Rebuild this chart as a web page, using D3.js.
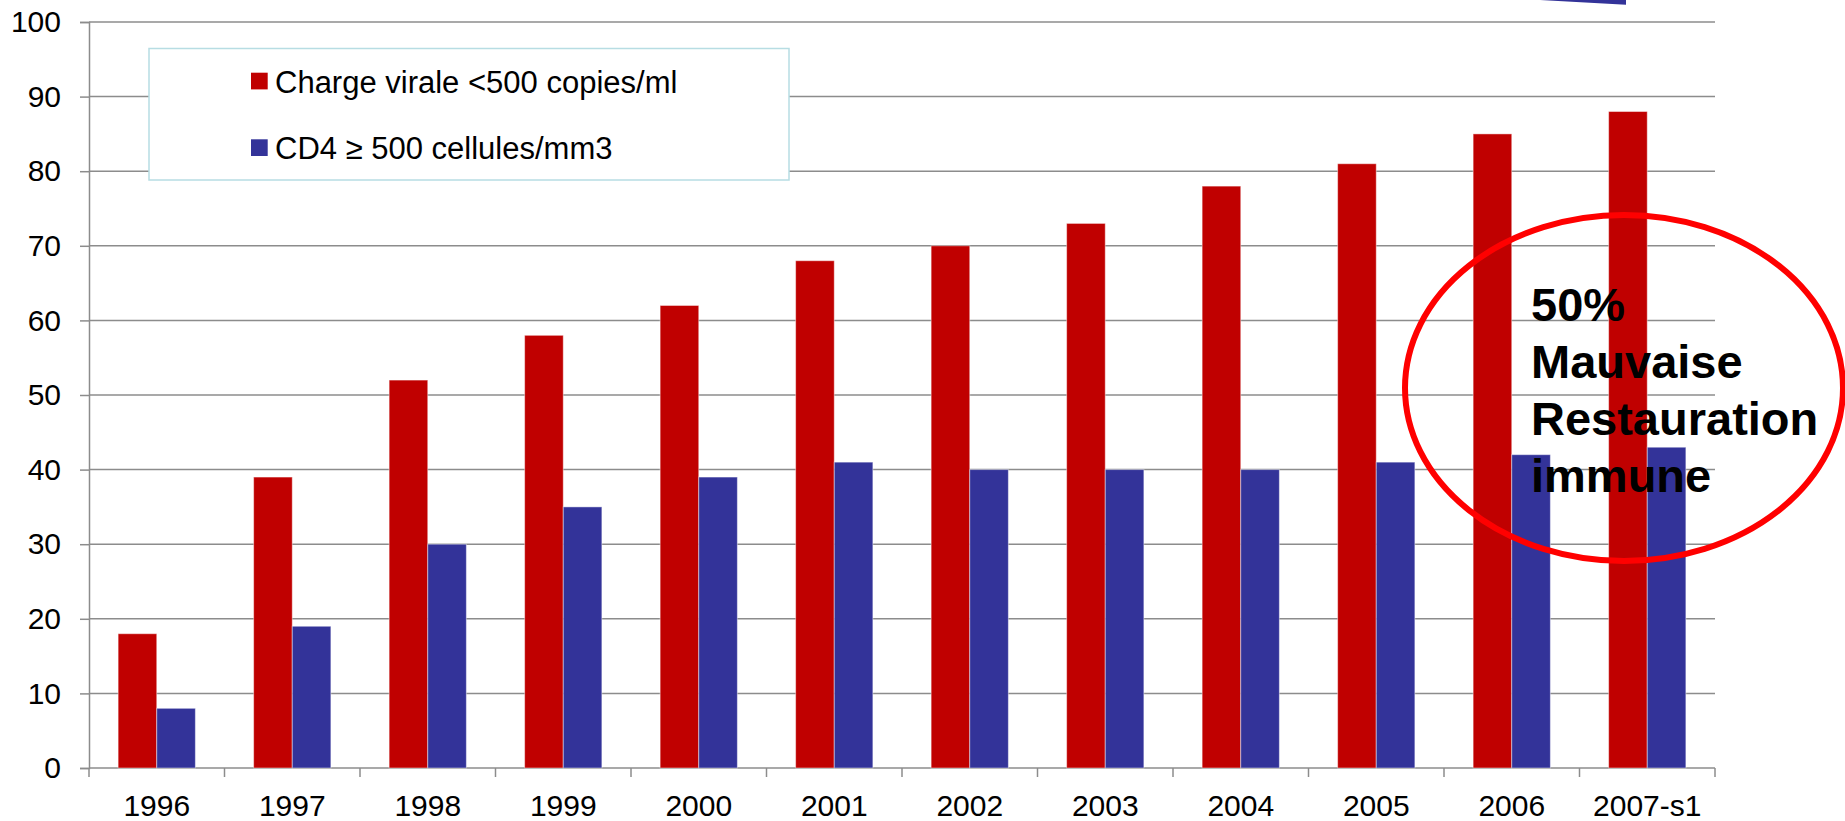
<!DOCTYPE html>
<html>
<head>
<meta charset="utf-8">
<script src="https://cdn.jsdelivr.net/npm/d3@7"></script>
<style>
  html, body { margin: 0; padding: 0; background: #fff; }
  svg { display: block; }
  text { font-family: "Liberation Sans", Arial, sans-serif; }
</style>
</head>
<body>
<svg id="chart" width="1845" height="821"></svg>
<script>
// ---- data ----
const categories = ["1996","1997","1998","1999","2000","2001","2002","2003","2004","2005","2006","2007-s1"];
const seriesNames = ["Charge virale <500 copies/ml", "CD4 \u2265 500 cellules/mm3"];
const chargeVirale = [18, 39, 52, 58, 62, 68, 70, 73, 78, 81, 85, 88];
const cd4 = [8, 19, 30, 35, 39, 41, 40, 40, 40, 41, 42, 43];
const yTickValues = [0, 10, 20, 30, 40, 50, 60, 70, 80, 90, 100];
const annotationLines = ["50%", "Mauvaise", "Restauration", "immune"];

const colors = ["#c00000", "#333399"];

// ---- layout ----
const svg = d3.select("#chart");
const plotLeft = 89, plotRight = 1715, plotTop = 22, plotBottom = 768;

const x0 = d3.scaleBand().domain(categories).range([plotLeft, plotRight])
  .paddingInner(0.43).paddingOuter(0.215);
const x1 = d3.scaleBand().domain([0, 1]).range([0, x0.bandwidth()]);
const y = d3.scaleLinear().domain([0, 100]).range([plotBottom, plotTop]);

// gridlines
svg.append("g").selectAll("line").data(yTickValues.filter(d => d > 0)).join("line")
  .attr("x1", plotLeft).attr("x2", plotRight)
  .attr("y1", d => y(d)).attr("y2", d => y(d))
  .attr("stroke", "#8c8c8c").attr("stroke-width", 1.5);

// y axis
const yAxis = svg.append("g").attr("transform", `translate(${plotLeft},0)`)
  .call(d3.axisLeft(y).tickValues(yTickValues).tickSize(9).tickPadding(19));
yAxis.select(".domain").attr("stroke", "#8c8c8c").attr("stroke-width", 1.5);
yAxis.selectAll(".tick line").attr("stroke", "#8c8c8c").attr("stroke-width", 1.5);
yAxis.selectAll(".tick text").attr("font-size", 30).attr("fill", "#000")
  .attr("font-family", "'Liberation Sans', Arial, sans-serif");

// x axis with ticks at band boundaries
const xAxisG = svg.append("g").attr("transform", `translate(0,${plotBottom})`);
xAxisG.append("line").attr("x1", plotLeft).attr("x2", plotRight).attr("y1", 0).attr("y2", 0)
  .attr("stroke", "#8c8c8c").attr("stroke-width", 1.5);
const boundaries = categories.map(c => x0(c) - (x0.step() - x0.bandwidth()) / 2);
boundaries.push(plotRight);
xAxisG.selectAll("line.tk").data(boundaries).join("line").attr("class", "tk")
  .attr("x1", d => d).attr("x2", d => d).attr("y1", 0).attr("y2", 9)
  .attr("stroke", "#8c8c8c").attr("stroke-width", 1.5);
xAxisG.selectAll("text").data(categories).join("text")
  .attr("x", d => x0(d) + x0.bandwidth() / 2)
  .attr("y", 27).attr("dy", "0.71em")
  .attr("text-anchor", "middle").attr("font-size", 30).attr("fill", "#000")
  .text(d => d);

// bars
const seriesData = [chargeVirale, cd4];
const groups = svg.append("g").selectAll("g").data(categories).join("g")
  .attr("transform", d => `translate(${x0(d)},0)`);
groups.selectAll("rect").data((d, i) => seriesData.map((s, j) => ({ j, v: s[i] }))).join("rect")
  .attr("x", d => x1(d.j)).attr("width", x1.bandwidth())
  .attr("y", d => y(d.v)).attr("height", d => y(0) - y(d.v))
  .attr("fill", d => colors[d.j])
  .attr("stroke", "#ffffff").attr("stroke-opacity", 0.45).attr("stroke-width", 1);

// legend
const legend = svg.append("g");
legend.append("rect").attr("x", 149).attr("y", 48.5).attr("width", 640).attr("height", 131.5)
  .attr("fill", "#fff").attr("stroke", "#b7dde3").attr("stroke-width", 1.5);
const legItems = legend.selectAll("g").data(seriesNames).join("g")
  .attr("transform", (d, i) => `translate(251,${72.7 + i * 66.6})`);
legItems.append("rect").attr("width", 16.7).attr("height", 16.7).attr("fill", (d, i) => colors[i]);
legItems.append("text").attr("x", 24).attr("y", 20).attr("font-size", 31).attr("fill", "#000")
  .text(d => d);

// arrow fragment at top right
svg.append("polygon")
  .attr("points", [[1540, 0], [1626, 0], [1626, 4.7]].map(p => p.join(",")).join(" "))
  .attr("fill", "#333399");

// ellipse annotation
svg.append("ellipse").attr("cx", 1624).attr("cy", 388).attr("rx", 219).attr("ry", 173)
  .attr("fill", "none").attr("stroke", "#ff0000").attr("stroke-width", 6);

svg.append("g").selectAll("text").data(annotationLines).join("text")
  .attr("x", 1531).attr("y", (d, i) => 320.5 + i * 57.3)
  .attr("font-size", 47).attr("font-weight", "bold").attr("fill", "#000")
  .text(d => d);
</script>
</body>
</html>
